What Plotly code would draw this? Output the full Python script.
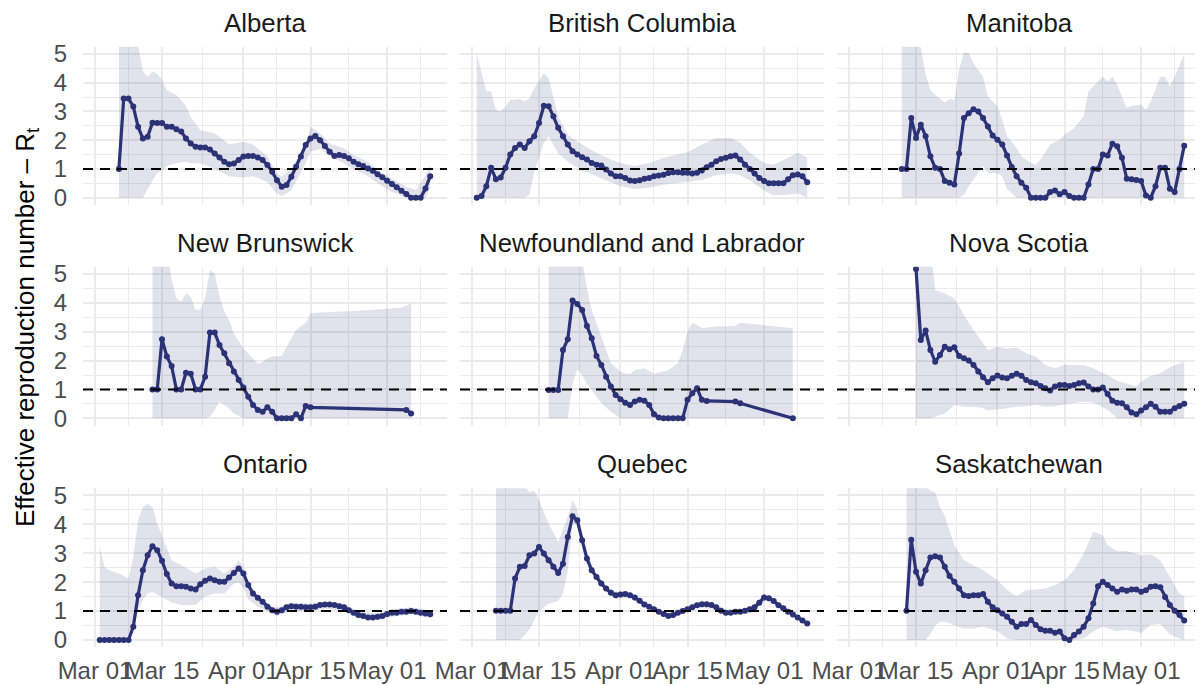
import pandas as pd
import plotly.graph_objects as go

# ---------------- data ----------------
BASE_DATE = "2020-03-01"          # day offsets below are counted from this date
THRESHOLD = 1.0

PROVINCES = ["Alberta", "British Columbia", "Manitoba",
             "New Brunswick", "Newfoundland and Labrador", "Nova Scotia",
             "Ontario", "Quebec", "Saskatchewan"]

# Alberta
AB_START = 5
AB_RT = [1.0, 3.45, 3.45, 3.17, 2.47, 2.06, 2.12, 2.61, 2.6, 2.6,
         2.47, 2.47, 2.38, 2.3, 2.06, 1.89, 1.77, 1.75, 1.75, 1.68,
         1.54, 1.4, 1.25, 1.16, 1.19, 1.31, 1.43, 1.45, 1.45, 1.4,
         1.31, 1.14, 0.9, 0.61, 0.38, 0.44, 0.73, 1.08, 1.43, 1.83,
         2.06, 2.15, 2.0, 1.8, 1.6, 1.45, 1.49, 1.45, 1.37, 1.25,
         1.16, 1.1, 1.02, 0.94, 0.82, 0.71, 0.59, 0.48, 0.36, 0.24,
         0.13, 0.0, 0.0, 0.0, 0.32, 0.75]
AB_CI_DAY = [5, 9, 10, 11, 12, 13, 14, 15, 17, 19, 20, 22, 25, 28, 31, 33, 36,
             38, 39, 41, 44, 45, 47, 49, 52, 54, 57, 59, 62, 65, 67, 69, 70]
AB_CI_HI = [6, 5.3, 4.4, 4.2, 4.4, 4.3, 4.1, 3.75, 3.57, 3.2, 2.8, 2.35, 2.24,
            1.85, 1.95, 1.85, 1.43, 0.85, 0.73, 1.02, 1.89, 2.47, 2.24, 1.89,
            1.72, 1.48, 1.25, 0.96, 0.67, 0.38, 0.27, 0.79, 1.14]
AB_CI_LO = [0, 0, 0, 0.3, 0.6, 0.85, 0.95, 1.1, 1.2, 1.25, 1.2, 1.2, 1.0,
            0.75, 0.7, 0.75, 0.55, 0.15, 0.05, 0.25, 1.2, 1.6, 1.7, 1.45,
            1.2, 1.0, 0.75, 0.5, 0.2, 0, 0, 0, 0.35]

# British Columbia
BC_START = 1
BC_RT = [0.0, 0.06, 0.4, 1.04, 0.64, 0.7, 1.04, 1.5, 1.73, 1.85,
         1.73, 1.96, 2.14, 2.6, 3.2, 3.18, 2.83, 2.43, 2.14, 1.85,
         1.62, 1.5, 1.41, 1.33, 1.21, 1.15, 1.12, 0.98, 0.84, 0.75,
         0.75, 0.69, 0.6, 0.58, 0.61, 0.66, 0.69, 0.75, 0.77, 0.8,
         0.86, 0.89, 0.89, 0.87, 0.87, 0.84, 0.87, 0.95, 1.06, 1.15,
         1.27, 1.35, 1.39, 1.44, 1.47, 1.33, 1.15, 1.0, 0.84, 0.69,
         0.58, 0.5, 0.5, 0.5, 0.5, 0.64, 0.78, 0.81, 0.75, 0.54]
BC_CI_DAY = [1, 2, 3, 4, 5, 6, 7, 8, 10, 11, 12, 13, 15, 16, 17, 18, 20, 23,
             26, 29, 31, 34, 37, 40, 43, 45, 48, 51, 54, 56, 58, 61, 63, 66, 68, 70]
BC_CI_HI = [5.0, 4.33, 3.7, 3.7, 3.06, 3.0, 3.17, 3.4, 3.43, 3.35, 3.46, 3.81,
            4.33, 4.16, 3.52, 2.83, 2.19, 1.85, 1.56, 1.33, 1.21, 1.1, 1.21,
            1.39, 1.5, 1.58, 1.85, 2.08, 2.08, 1.91, 1.56, 1.21, 1.15, 1.39,
            1.56, 1.39]
BC_CI_LO = [0, 0, 0, 0, 0, 0, 0, 0, 0, 0, 0.1, 0.9, 1.9, 2.14, 1.85, 1.55,
            1.25, 0.95, 0.75, 0.55, 0.4, 0.3, 0.35, 0.45, 0.5, 0.55, 0.62,
            0.78, 0.85, 0.78, 0.6, 0.25, 0.08, 0.1, 0.15, 0]

# Manitoba
MB_START = 11
MB_RT = [1.0, 1.0, 2.77, 2.08, 2.54, 2.14, 1.44, 1.04, 1.0, 0.58,
         0.52, 0.46, 1.54, 2.77, 2.94, 3.08, 3.0, 2.77, 2.48, 2.16,
         2.02, 1.85, 1.47, 1.07, 0.75, 0.52, 0.35, 0.0, 0.0, 0.0,
         0.0, 0.2, 0.25, 0.12, 0.2, 0.06, 0.0, 0.0, 0.0, 0.46,
         1.0, 1.0, 1.5, 1.47, 1.88, 1.79, 1.39, 0.66, 0.64, 0.62,
         0.58, 0.08, 0.0, 0.4, 1.04, 1.04, 0.31, 0.2, 1.0, 1.81]
MB_CI_DAY = [11, 14, 15, 16, 17, 18, 20, 21, 22, 23, 24, 25, 26, 28, 29, 31,
             32, 33, 35, 36, 38, 39, 40, 42, 44, 45, 47, 49, 50, 51, 53, 54,
             55, 56, 58, 59, 61, 62, 63, 65, 66, 67, 68, 70]
MB_CI_HI = [6, 6, 5.2, 4.3, 3.75, 3.58, 3.31, 3.43, 3.4, 4.45, 5.05, 5.03,
            4.68, 4.21, 3.52, 3.18, 2.71, 2.14, 1.73, 1.44, 1.21, 1.15, 1.33,
            1.85, 2.02, 2.19, 2.42, 2.83, 3.7, 3.87, 4.21, 4.04, 4.21, 3.93,
            3.12, 3.2, 3.23, 3.06, 3.35, 4.21, 4.21, 3.87, 4.21, 5.0]
MB_CI_LO = [0, 0, 0, 0, 0, 0, 0, 0, 0, 0, 0.1, 0.4, 0.65, 1.1, 0.87, 0.85,
            0.75, 0.3, 0, 0, 0, 0, 0, 0, 0, 0, 0, 0, 0, 0, 0, 0, 0, 0, 0, 0,
            0, 0, 0, 0, 0, 0, 0, 0]

# New Brunswick (daily run, then two late reports)
NB_START = 12
NB_RT = [1.0, 1.0, 2.74, 2.14, 1.81, 1.0, 1.0, 1.58, 1.54, 1.0,
         1.0, 1.44, 2.97, 2.97, 2.54, 2.25, 1.91, 1.62, 1.33, 1.07,
         0.75, 0.46, 0.29, 0.23, 0.38, 0.23, 0.0, 0.0, 0.0, 0.0,
         0.14, 0.0, 0.43, 0.38]
NB_LATE_DAY = [65, 66]
NB_LATE_RT = [0.29, 0.17]
NB_CI_DAY = [12, 15, 16, 17, 18, 19, 20, 21, 22, 23, 24, 25, 26, 27, 28, 29,
             31, 33, 34, 35, 36, 37, 39, 40, 42, 43, 44, 45, 46, 55, 64, 66]
NB_CI_HI = [6, 6, 4.8, 4.16, 4.04, 4.33, 4.21, 3.75, 3.77, 4.16, 5.14, 5.0,
            4.21, 3.7, 3.4, 2.94, 2.42, 2.08, 1.88, 1.95, 2.08, 2.14, 2.16,
            2.48, 3.06, 3.2, 3.3, 3.64, 3.66, 3.73, 3.83, 3.98]
NB_CI_LO = [0, 0, 0, 0, 0, 0, 0, 0, 0, 0, 0.06, 0.29, 0.58, 0.45, 0.35, 0.17,
            0, 0, 0, 0, 0, 0, 0, 0, 0, 0, 0, 0, 0, 0, 0, 0]

# Newfoundland and Labrador (daily run, then late reports)
NL_START = 16
NL_RT = [0.98, 0.98, 0.98, 2.37, 2.74, 4.08, 3.96, 3.75, 3.2, 2.77,
         2.16, 1.85, 1.44, 1.1, 0.81, 0.66, 0.54, 0.46, 0.58, 0.64,
         0.61, 0.46, 0.14, 0.03, 0.0, 0.0, 0.0, 0.0, 0.0, 0.64,
         0.87, 1.04, 0.64, 0.6]
NL_LATE_DAY = [55, 56, 67]
NL_LATE_RT = [0.58, 0.52, 0.0]
NL_CI_DAY = [16, 20, 21, 22, 23, 24, 25, 27, 29, 31, 32, 33, 34, 36, 37, 38,
             40, 41, 43, 44, 45, 46, 47, 48, 51, 55, 56, 61, 67]
NL_CI_HI = [6, 6, 6, 6, 5.5, 4.5, 3.75, 2.83, 1.91, 1.62, 1.55, 1.54, 1.67,
            1.73, 1.62, 1.54, 1.62, 1.67, 1.91, 2.37, 3.0, 3.31, 3.23, 3.12,
            3.18, 3.2, 3.31, 3.23, 3.12]
NL_CI_LO = [0, 0, 1.2, 1.7, 1.5, 1.2, 0.98, 0.52, 0.23, 0, 0, 0, 0, 0, 0, 0,
            0, 0, 0, 0, 0, 0, 0, 0, 0, 0, 0, 0, 0]

# Nova Scotia
NS_START = 14
NS_RT = [5.17, 2.71, 3.04, 2.37, 1.96, 2.19, 2.48, 2.39, 2.46, 2.16,
         2.08, 2.0, 1.85, 1.62, 1.42, 1.25, 1.39, 1.48, 1.41, 1.39,
         1.47, 1.54, 1.47, 1.33, 1.25, 1.21, 1.12, 1.04, 0.96, 1.1,
         1.15, 1.15, 1.12, 1.15, 1.21, 1.24, 1.1, 1.0, 1.0, 1.07,
         0.84, 0.61, 0.54, 0.52, 0.38, 0.2, 0.14, 0.27, 0.38, 0.5,
         0.4, 0.23, 0.23, 0.23, 0.35, 0.43, 0.5]
NS_CI_DAY = [14, 17, 18, 19, 20, 22, 24, 26, 28, 29, 31, 33, 35, 37, 39, 41,
             43, 45, 47, 49, 51, 54, 56, 58, 60, 61, 63, 65, 67, 70]
NS_CI_HI = [6, 6, 4.45, 4.39, 4.33, 4.16, 3.58, 3.06, 2.6, 2.37, 2.48, 2.42,
            2.45, 2.25, 2.14, 1.85, 1.73, 1.85, 1.85, 1.85, 1.73, 1.5, 1.3,
            1.21, 1.1, 1.27, 1.47, 1.56, 1.77, 1.96]
NS_CI_LO = [0, 0, 0.05, 0.1, 0.17, 0.46, 0.4, 0.4, 0.35, 0.27, 0.3, 0.35, 0.4,
            0.42, 0.46, 0.4, 0.42, 0.48, 0.52, 0.58, 0.55, 0.3, 0, 0, 0, 0, 0,
            0, 0, 0]

# Ontario
ON_START = 1
ON_RT = [0.0, 0.0, 0.0, 0.0, 0.0, 0.0, 0.0, 0.46, 1.55, 2.41,
         2.93, 3.24, 3.1, 2.74, 2.28, 1.95, 1.86, 1.86, 1.84, 1.78,
         1.75, 1.93, 2.05, 2.13, 2.07, 2.01, 2.01, 2.16, 2.32, 2.47,
         2.3, 1.9, 1.61, 1.46, 1.32, 1.15, 1.03, 0.98, 1.03, 1.13,
         1.17, 1.15, 1.15, 1.13, 1.13, 1.15, 1.21, 1.23, 1.23, 1.21,
         1.17, 1.13, 1.03, 0.94, 0.86, 0.83, 0.78, 0.78, 0.8, 0.83,
         0.9, 0.94, 0.94, 0.98, 0.98, 1.0, 0.98, 0.94, 0.92, 0.89]
ON_CI_DAY = [1, 2, 3, 5, 7, 8, 9, 10, 11, 12, 13, 15, 16, 18, 21, 23, 25, 27,
             29, 30, 31, 32, 34, 37, 38, 41, 45, 48, 52, 55, 59, 62, 66, 70]
ON_CI_HI = [3.22, 2.53, 2.41, 2.3, 2.13, 2.87, 4.14, 4.6, 4.71, 4.6, 4.02,
            3.22, 2.76, 2.59, 2.3, 2.47, 2.53, 2.3, 2.53, 2.76, 2.53, 2.01,
            1.49, 1.17, 1.13, 1.29, 1.26, 1.32, 1.26, 0.98, 0.92, 1.06, 1.13,
            1.03]
ON_CI_LO = [0, 0, 0, 0, 0, 0.3, 1.03, 1.4, 1.61, 1.67, 1.6, 1.4, 1.3, 1.21,
            1.21, 1.5, 1.61, 1.6, 1.95, 2.0, 1.8, 1.4, 1.15, 0.92, 0.83, 1.0,
            1.0, 1.09, 1.0, 0.75, 0.67, 0.8, 0.9, 0.75]

# Quebec
QC_START = 5
QC_RT = [1.01, 1.01, 1.01, 1.01, 2.13, 2.53, 2.56, 2.93, 2.99, 3.22,
         2.99, 2.76, 2.53, 2.32, 2.64, 3.56, 4.28, 4.14, 3.45, 2.82,
         2.41, 2.18, 1.95, 1.78, 1.63, 1.55, 1.57, 1.59, 1.55, 1.47,
         1.36, 1.23, 1.15, 1.06, 0.98, 0.9, 0.83, 0.86, 0.94, 1.0,
         1.06, 1.13, 1.2, 1.24, 1.24, 1.21, 1.13, 1.01, 0.94, 0.94,
         0.98, 0.98, 1.01, 1.06, 1.13, 1.29, 1.47, 1.44, 1.35, 1.2,
         1.1, 0.98, 0.88, 0.78, 0.67, 0.57]
QC_CI_DAY = [5, 10, 12, 13, 14, 16, 18, 19, 20, 21, 22, 23, 24, 26, 28, 30,
             33, 35, 38, 41, 44, 47, 51, 53, 57, 59, 61, 63, 66, 70]
QC_CI_HI = [6, 5.6, 5.11, 5.17, 4.83, 4.02, 3.39, 3.79, 4.25, 4.83, 4.54,
            3.62, 2.93, 2.24, 1.9, 1.67, 1.67, 1.44, 1.13, 0.92, 1.09, 1.32,
            1.22, 1.06, 1.06, 1.24, 1.59, 1.42, 1.03, 0.67]
QC_CI_LO = [0, 0, 0.35, 0.69, 1.0, 1.26, 1.35, 1.6, 2.4, 4.0, 4.0, 3.3, 2.6,
            2.07, 1.72, 1.44, 1.44, 1.26, 0.98, 0.75, 0.92, 1.13, 1.05, 0.9,
            0.9, 0.98, 1.36, 1.25, 0.92, 0.48]

# Saskatchewan
SK_START = 12
SK_RT = [1.01, 3.47, 2.36, 1.95, 2.41, 2.85, 2.9, 2.85, 2.53, 2.21,
         2.01, 1.78, 1.55, 1.52, 1.55, 1.55, 1.59, 1.32, 1.13, 1.03,
         0.92, 0.8, 0.63, 0.46, 0.55, 0.55, 0.69, 0.52, 0.37, 0.32,
         0.32, 0.25, 0.29, 0.06, 0.0, 0.17, 0.29, 0.46, 0.75, 1.26,
         1.86, 2.01, 1.9, 1.78, 1.67, 1.75, 1.7, 1.75, 1.75, 1.67,
         1.72, 1.84, 1.86, 1.82, 1.49, 1.21, 1.01, 0.86, 0.67]
SK_CI_DAY = [12, 16, 17, 18, 19, 20, 21, 22, 24, 26, 28, 31, 33, 35, 37, 39,
             41, 43, 45, 47, 49, 51, 53, 54, 56, 58, 61, 63, 65, 67, 69, 70]
SK_CI_HI = [6, 5.3, 5.17, 5.11, 4.6, 4.3, 3.79, 3.28, 2.76, 2.59, 2.41, 2.07,
            1.72, 1.52, 1.72, 1.75, 1.78, 1.9, 2.07, 2.41, 2.99, 3.74, 3.62,
            3.28, 3.08, 3.08, 2.93, 2.96, 2.76, 2.18, 1.61, 1.52]
SK_CI_LO = [0, 0, 0.2, 0.5, 0.63, 0.63, 0.58, 0.5, 0.4, 0.4, 0.46, 0.3, 0.05,
            0, 0, 0, 0, 0, 0, 0, 0.05, 0.29, 0.46, 0.4, 0.3, 0.35, 0.25, 0.52,
            0.55, 0.2, 0.05, 0]

X_TICKS = ["2020-03-01", "2020-03-15", "2020-04-01", "2020-04-15", "2020-05-01"]
X_TICK_TEXT = ["Mar 01", "Mar 15", "Apr 01", "Apr 15", "May 01"]
X_MINOR = ["2020-03-08", "2020-03-23 12:00", "2020-04-08", "2020-04-23", "2020-05-08"]
X_RANGE = ["2020-02-27 12:00", "2020-05-13 12:00"]
Y_TICKS = [0, 1, 2, 3, 4, 5]
Y_MINOR = [0.5, 1.5, 2.5, 3.5, 4.5]
Y_RANGE = [-0.25, 5.25]

SERIES = {
    "Alberta": (AB_START, AB_RT, [], [], AB_CI_DAY, AB_CI_LO, AB_CI_HI),
    "British Columbia": (BC_START, BC_RT, [], [], BC_CI_DAY, BC_CI_LO, BC_CI_HI),
    "Manitoba": (MB_START, MB_RT, [], [], MB_CI_DAY, MB_CI_LO, MB_CI_HI),
    "New Brunswick": (NB_START, NB_RT, NB_LATE_DAY, NB_LATE_RT, NB_CI_DAY, NB_CI_LO, NB_CI_HI),
    "Newfoundland and Labrador": (NL_START, NL_RT, NL_LATE_DAY, NL_LATE_RT, NL_CI_DAY, NL_CI_LO, NL_CI_HI),
    "Nova Scotia": (NS_START, NS_RT, [], [], NS_CI_DAY, NS_CI_LO, NS_CI_HI),
    "Ontario": (ON_START, ON_RT, [], [], ON_CI_DAY, ON_CI_LO, ON_CI_HI),
    "Quebec": (QC_START, QC_RT, [], [], QC_CI_DAY, QC_CI_LO, QC_CI_HI),
    "Saskatchewan": (SK_START, SK_RT, [], [], SK_CI_DAY, SK_CI_LO, SK_CI_HI),
}

# ---------------- style / layout ----------------
VIEW_W, VIEW_H = 1203, 685
BODY_MARGIN = 8                       # default page margin around the plot div
W, H = VIEW_W - BODY_MARGIN, VIEW_H - BODY_MARGIN
LINE_COLOR = "#2B3275"
RIBBON_COLOR = "rgba(43,50,117,0.14)"
GRID_COLOR = "#EBEBEB"
FONT = "Liberation Sans, Arial, Helvetica, sans-serif"

# panel boxes in window pixels
COL_PX = [(83, 447), (460, 824), (837, 1201)]
ROW_PX = [(46.8, 204.9), (266.8, 425.5), (488.2, 647.2)]


def px_x(p):
    return (p - BODY_MARGIN) / W


def px_y(p):
    return 1 - (p - BODY_MARGIN) / H


base = pd.Timestamp(BASE_DATE)


def to_dates(days):
    return [(base + pd.Timedelta(days=int(d))).strftime("%Y-%m-%d") for d in days]


fig = go.Figure()
annotations = []
shapes = []
layout_axes = {}

for i, prov in enumerate(PROVINCES):
    r, c = divmod(i, 3)
    suffix = "" if i == 0 else str(i + 1)
    xa, ya = "x" + suffix, "y" + suffix
    start, rt, late_day, late_rt, ci_day, ci_lo, ci_hi = SERIES[prov]

    days = list(range(start, start + len(rt))) + list(late_day)
    vals = list(rt) + list(late_rt)
    dates = to_dates(days)
    ci_dates = to_dates(ci_day)

    fig.add_trace(go.Scatter(
        x=ci_dates + ci_dates[::-1], y=list(ci_hi) + list(ci_lo)[::-1],
        mode="lines", fill="toself", fillcolor=RIBBON_COLOR,
        line=dict(width=0, color="rgba(0,0,0,0)"), hoverinfo="skip",
        showlegend=False, xaxis=xa, yaxis=ya))
    fig.add_trace(go.Scatter(
        x=dates, y=vals, mode="lines+markers",
        line=dict(color=LINE_COLOR, width=3.2),
        marker=dict(color=LINE_COLOR, size=6),
        showlegend=False, xaxis=xa, yaxis=ya, name=prov))

    shapes.append(dict(type="line", xref=f"{xa} domain", yref=ya, x0=0, x1=1,
                       y0=THRESHOLD, y1=THRESHOLD, layer="above",
                       line=dict(color="black", width=2.1, dash="10px,7px")))

    x0, x1 = COL_PX[c]
    y0, y1 = ROW_PX[r]
    xdom = [px_x(x0), px_x(x1)]
    ydom = [px_y(y1), px_y(y0)]

    layout_axes["xaxis" + suffix] = dict(
        domain=xdom, type="date", range=X_RANGE, anchor=ya,
        tickmode="array", tickvals=X_TICKS, ticktext=X_TICK_TEXT,
        tickangle=0, automargin=False,
        showticklabels=(r == 2), ticks="outside", ticklen=2,
        tickcolor="rgba(0,0,0,0)",
        tickfont=dict(size=24, color="#4D4D4D", family=FONT),
        showgrid=True, gridcolor=GRID_COLOR, gridwidth=2,
        minor=dict(tickmode="array", tickvals=X_MINOR, showgrid=True,
                   gridcolor=GRID_COLOR, gridwidth=1),
        zeroline=False, showline=False, fixedrange=True)
    layout_axes["yaxis" + suffix] = dict(
        domain=ydom, range=Y_RANGE, anchor=xa,
        tickmode="array", tickvals=Y_TICKS, showticklabels=(c == 0),
        automargin=False,
        ticks="outside", ticklen=10, tickcolor="rgba(0,0,0,0)",
        tickfont=dict(size=24, color="#4D4D4D", family=FONT),
        showgrid=True, gridcolor=GRID_COLOR, gridwidth=2,
        minor=dict(tickmode="array", tickvals=Y_MINOR, showgrid=True,
                   gridcolor=GRID_COLOR, gridwidth=1),
        zeroline=False, showline=False, fixedrange=True)

    annotations.append(dict(
        text=prov, xref="paper", yref="paper",
        x=px_x((x0 + x1) / 2), y=px_y(y0 - 24),
        xanchor="center", yanchor="middle", showarrow=False,
        font=dict(size=25.8, color="#1A1A1A", family=FONT)))

annotations.append(dict(
    text="Effective reproduction number \u2013 R<sub>t</sub>",
    xref="paper", yref="paper", x=px_x(26), y=px_y(328),
    xanchor="center", yanchor="middle", textangle=-90, showarrow=False,
    font=dict(size=26, color="black", family=FONT)))

fig.update_layout(
    width=W, height=H, autosize=False,
    margin=dict(l=0, r=0, t=0, b=0, pad=0),
    paper_bgcolor="white", plot_bgcolor="white",
    showlegend=False, annotations=annotations, shapes=shapes,
    font=dict(family=FONT),
    **layout_axes)

fig.write_html("out.html")
